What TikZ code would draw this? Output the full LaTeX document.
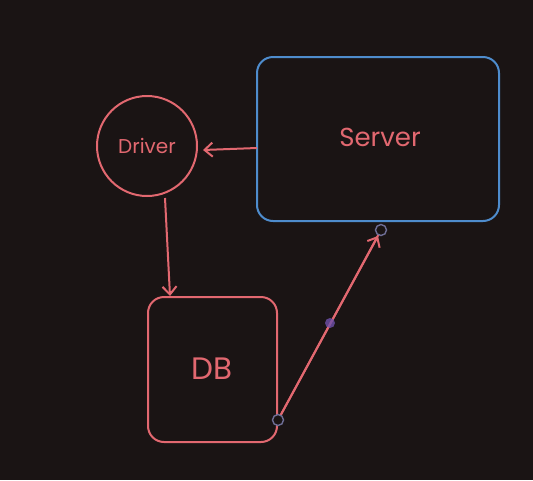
\documentclass[tikz,border=0pt]{standalone}
\usepackage{fontspec}
\setmainfont{Poppins}
\usetikzlibrary{arrows.meta}
\definecolor{bg}{RGB}{26,20,20}
\definecolor{redc}{RGB}{226,104,112}
\definecolor{bluec}{RGB}{78,140,205}
\definecolor{knob}{RGB}{110,110,150}
\definecolor{purp}{RGB}{110,80,170}
\tikzset{
  redline/.style={draw=redc, line width=2pt},
  shapebox/.style={redline, rounded corners=16pt, inner sep=0pt},
  lbl/.style={text=redc},
  arr/.style={redline, -{Straight Barb[length=8pt,width=14pt]}},
  knobc/.style={circle, draw=knob, line width=1.4pt, fill=bg, minimum size=11pt, inner sep=0pt}
}
\begin{document}
\begin{tikzpicture}[x=1pt,y=-1pt]
\fill[bg] (0,0) rectangle (533,480);
\useasboundingbox (0,0) rectangle (533,480);
\node[circle, redline, minimum size=100pt, inner sep=0pt] (driver) at (147,146) {};
\node[lbl, font=\fontsize{20}{22}\selectfont] at (147,146) {Driver};
\node[draw=bluec, line width=2pt, rounded corners=16pt, minimum width=242pt, minimum height=164pt, inner sep=0pt] (server) at (378,139) {};
\node[lbl, font=\fontsize{26}{28}\selectfont] at (380,137) {Server};
\node[shapebox, minimum width=129pt, minimum height=145pt] (db) at (212.5,369.5) {};
\node[lbl, font=\fontsize{31}{33}\selectfont] at (212,369) {DB};
\coordinate (sl) at (257,148);
\coordinate (dr) at (203,150);
\draw[arr] (sl) -- (dr);
\coordinate (dtop) at (165,198);
\coordinate (dbtop) at (170,296);
\draw[arr] (dtop) -- (dbtop);
\coordinate (s1) at (278,420);
\coordinate (s2) at (381,230);
\coordinate (a2) at (378,236);
\draw[redline] (s1) -- (s2);
\draw[arr] (s1) -- (a2);
\node[knobc] (k1) at (s1) {};
\node[knobc] (k2) at (s2) {};
\fill[purp, opacity=0.8] (330,323) circle (5pt);
\end{tikzpicture}
\end{document}
